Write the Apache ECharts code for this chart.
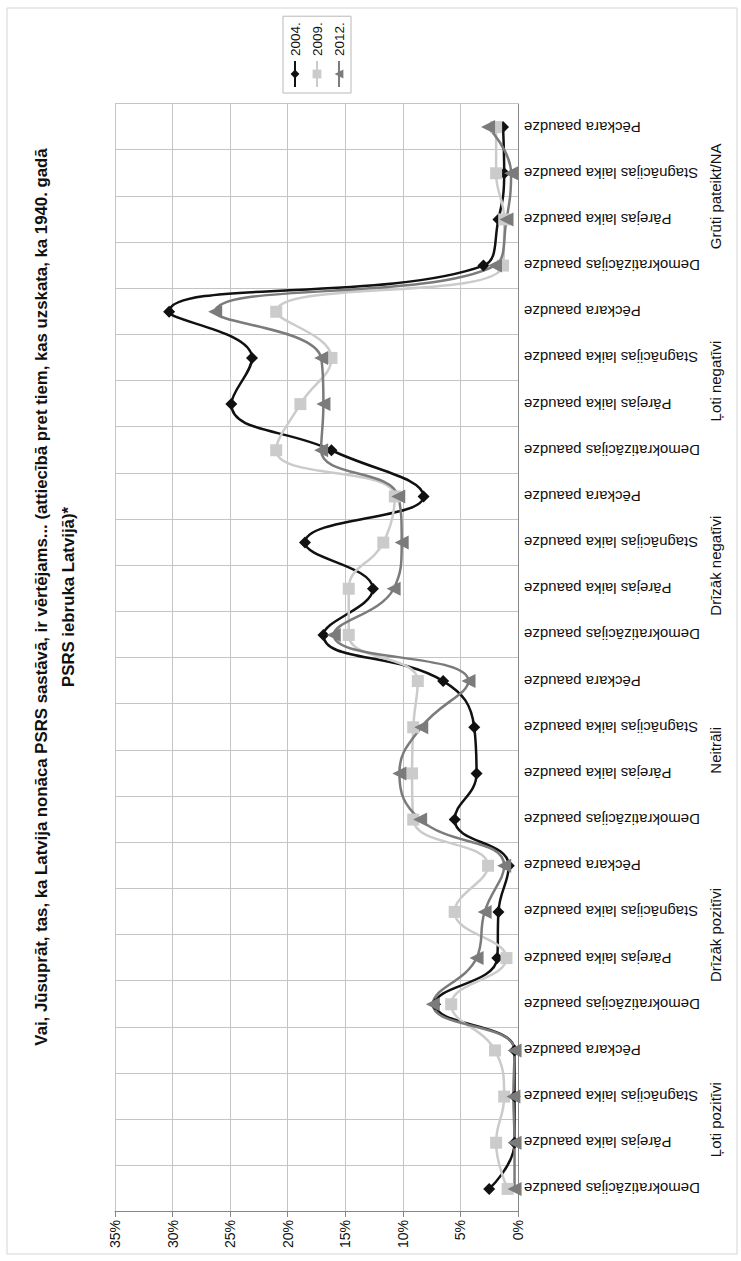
<!DOCTYPE html>
<html>
<head>
<meta charset="utf-8">
<script src="https://cdn.jsdelivr.net/npm/echarts@6/dist/echarts.min.js"></script>
<style>
  html, body { margin: 0; padding: 0; background: #fff; }
  body { width: 741px; height: 1261px; overflow: hidden; position: relative; }
  /* chart is laid out landscape, then turned a quarter left like the scan */
  #chart {
    position: absolute; left: 0; top: 0;
    width: 1261px; height: 741px;
    transform-origin: 0 0;
    transform: translate(0px, 1261px) rotate(-90deg);
  }
</style>
</head>
<body>
<div id="chart"></div>
<script>
const titleText = 'Vai, Jūsuprāt, tas, ka Latvija nonāca PSRS sastāvā, ir vērtējams... (attiecībā pret tiem, kas uzskata, ka 1940. gadā\nPSRS iebruka Latvijā)*';
const groups = ['Ļoti pozitīvi', 'Drīzāk pozitīvi', 'Neitrāli', 'Drīzāk negatīvi', 'Ļoti negatīvi', 'Grūti pateikt/NA'];
const generations = ['Demokratizācijas paaudze', 'Pārejas laika paaudze', 'Stagnācijas laika paaudze', 'Pēckara paaudze'];
const years = ['2004.', '2009.', '2012.'];

// percent, 4 generations per group, groups in the order above
const v2004 = [2.5, 0.3, 0.3, 0.3,  7.2, 1.8, 1.7, 0.8,  5.5, 3.6, 3.8, 6.5,
               16.9, 12.6, 18.5, 8.2,  16.2, 24.9, 23.1, 30.3,  3.0, 1.7, 1.2, 1.3];
const v2009 = [0.9, 1.9, 1.2, 2.0,  5.8, 1.0, 5.5, 2.6,  9.1, 9.2, 9.1, 8.7,
               14.7, 14.7, 11.7, 10.7,  21.0, 18.9, 16.2, 21.0,  1.3, 1.2, 1.9, 1.9];
const v2012 = [0.3, 0.3, 0.4, 0.3,  7.4, 3.6, 2.9, 1.2,  8.5, 10.3, 8.4, 4.3,
               16.0, 10.8, 10.1, 10.4,  17.1, 16.9, 17.1, 26.3,  2.0, 1.0, 0.6, 2.6];

const categories = [];
groups.forEach(function () {
    generations.forEach(function (g) { categories.push(g); });
});

const font = 'Liberation Sans, Arial, sans-serif';
const gridColor = '#c4c4c4';

let chart = echarts.init(document.getElementById('chart'), null, { renderer: 'svg' });
let option = {
    animation: false,
    backgroundColor: '#fff',
    textStyle: { fontFamily: font },
    graphic: [{
        type: 'rect',
        shape: { x: 7, y: 7, width: 1246, height: 730 },
        style: { fill: 'none', stroke: '#d4d4d4', lineWidth: 1 },
        silent: true
    }, {
        // chart title
        type: 'text',
        x: 664,
        y: 28,
        silent: true,
        style: {
            text: titleText,
            align: 'center',
            verticalAlign: 'top',
            fontSize: 16.8,
            fontWeight: 'bold',
            lineHeight: 27,
            fontFamily: font,
            fill: '#111'
        }
    }],
    legend: {
        orient: 'vertical',
        left: 1168,
        top: 283,
        padding: [4, 6, 4, 5],
        itemWidth: 26,
        itemHeight: 11,
        itemGap: 6,
        borderColor: '#b8b8b8',
        borderWidth: 1,
        textStyle: { fontSize: 13.5, color: '#111', lineHeight: 16, fontFamily: font },
        data: years
    },
    grid: { left: 49, right: 104, top: 115, bottom: 223 },
    xAxis: [{
        type: 'category',
        data: categories,
        boundaryGap: true,
        axisLine: { lineStyle: { color: '#868686', width: 1 } },
        axisTick: { interval: 0, length: 180, lineStyle: { color: gridColor } },
        splitLine: { show: true, interval: 0, lineStyle: { color: gridColor } },
        axisLabel: { interval: 0, rotate: 90, margin: 6, fontSize: 15, color: '#111', fontFamily: font }
    }, {
        type: 'category',
        data: groups,
        position: 'bottom',
        boundaryGap: true,
        axisLine: { show: false },
        axisTick: { interval: 0, length: 212, lineStyle: { color: gridColor } },
        axisLabel: { interval: 0, margin: 190, fontSize: 15, color: '#111', fontFamily: font }
    }],
    yAxis: {
        type: 'value',
        min: 0,
        max: 35,
        interval: 5,
        axisLine: { show: true, lineStyle: { color: '#868686' } },
        axisTick: { show: true, length: 5, lineStyle: { color: '#868686' } },
        splitLine: { lineStyle: { color: gridColor } },
        axisLabel: { formatter: '{value}%', fontSize: 14, margin: 8, color: '#111', fontFamily: font }
    },
    series: [{
        name: years[0],
        type: 'line',
        data: v2004,
        smooth: 0.45,
        symbol: 'diamond',
        symbolSize: 12,
        lineStyle: { color: '#111', width: 2.5 },
        itemStyle: { color: '#111' }
    }, {
        name: years[1],
        type: 'line',
        data: v2009,
        smooth: 0.45,
        symbol: 'rect',
        symbolSize: 12,
        lineStyle: { color: '#cbcbcb', width: 2.5 },
        itemStyle: { color: '#cbcbcb' }
    }, {
        name: years[2],
        type: 'line',
        data: v2012,
        smooth: 0.45,
        symbol: 'triangle',
        symbolSize: 14,
        lineStyle: { color: '#7b7b7b', width: 2.5 },
        itemStyle: { color: '#7b7b7b' }
    }]
};
chart.setOption(option);
</script>
</body>
</html>
